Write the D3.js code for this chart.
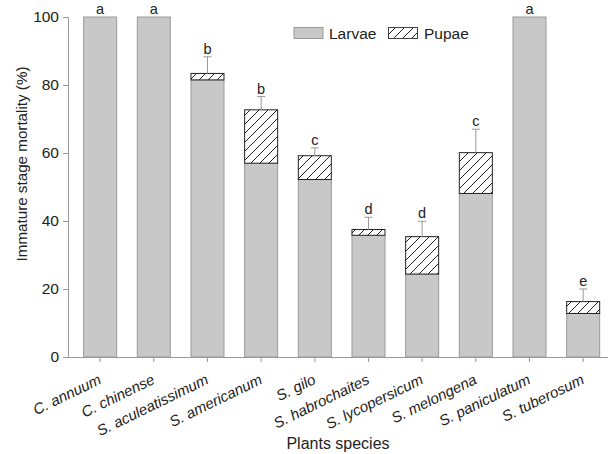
<!DOCTYPE html>
<html><head><meta charset="utf-8">
<script src="https://cdn.jsdelivr.net/npm/d3@7"></script>
<style>body{margin:0;background:#fff}svg{display:block;font-family:"Liberation Sans",Arial,sans-serif}</style>
</head><body><svg id="c" width="608" height="454"></svg>
<script>
const categories = ["C. annuum","C. chinense","S. aculeatissimum","S. americanum","S. gilo","S. habrochaites","S. lycopersicum","S. melongena","S. paniculatum","S. tuberosum"];
const larvae = [100,100,81.5,57.0,52.2,35.8,24.4,48.1,100,12.8];
const pupae  = [0,0,1.9,15.7,7.0,1.7,11.0,12.0,0,3.5];
const errTop = [null,null,88.3,76.6,61.5,41.1,39.9,67.0,null,20.0];
const letters = ["a","a","b","b","c","d","d","c","a","e"];
const yTicks = [0,20,40,60,80,100];

const svg = d3.select("#c");
const defs = svg.append("defs");
const pat = defs.append("pattern").attr("id","hatch").attr("patternUnits","userSpaceOnUse")
  .attr("width",9).attr("height",9);
pat.append("rect").attr("width",9).attr("height",9).attr("fill","#fff");
pat.append("path").attr("d","M-2,11 L11,-2 M-2,2 L2,-2 M7,11 L11,7").attr("stroke","#222").attr("stroke-width",1);

const x = d3.scaleBand().domain(categories).range([73.3,610]).paddingInner(0.385).paddingOuter(0.1925);
const y = d3.scaleLinear().domain([0,100]).range([357,17]);

// axes
const yAx = svg.append("g").attr("transform","translate(68,0)")
  .call(d3.axisLeft(y).tickValues(yTicks).tickSize(5).tickPadding(4));
yAx.select(".domain").attr("stroke","#999");
yAx.selectAll(".tick line").attr("stroke","#999");
yAx.selectAll("text").attr("font-size",15.5).attr("fill","#222").attr("font-family","Liberation Sans, Arial, sans-serif");

const data = categories.map((c,i)=>({c,l:larvae[i],p:pupae[i],e:errTop[i],t:letters[i]}));

// bars
svg.append("g").selectAll("rect").data(data).join("rect")
  .attr("x",d=>x(d.c)).attr("width",x.bandwidth())
  .attr("y",d=>y(d.l)).attr("height",d=>y(0)-y(d.l))
  .attr("fill","#c8c8c8").attr("stroke","#999").attr("stroke-width",1);
svg.append("g").selectAll("rect").data(data.filter(d=>d.p>0)).join("rect")
  .attr("x",d=>x(d.c)).attr("width",x.bandwidth())
  .attr("y",d=>y(d.l+d.p)).attr("height",d=>y(d.l)-y(d.l+d.p))
  .attr("fill","url(#hatch)").attr("stroke","#222").attr("stroke-width",1);

// error bars
const eg = svg.append("g").attr("stroke","#999").attr("stroke-width",1);
data.filter(d=>d.e!=null).forEach(d=>{
  const cx = x(d.c)+x.bandwidth()/2;
  eg.append("line").attr("x1",cx).attr("x2",cx).attr("y1",y(d.l+d.p)).attr("y2",y(d.e));
  eg.append("line").attr("x1",cx-4).attr("x2",cx+4).attr("y1",y(d.e)).attr("y2",y(d.e));
});

// letters
svg.append("g").selectAll("text").data(data).join("text")
  .attr("x",d=>x(d.c)+x.bandwidth()/2)
  .attr("y",d=>y(d.e!=null?d.e:d.l+d.p)-3)
  .attr("text-anchor","middle").attr("font-size",14.5).attr("fill","#222").text(d=>d.t);

// x axis
const xAx = svg.append("g").attr("transform","translate(0,357)")
  .call(d3.axisBottom(x).tickSize(5).tickSizeOuter(0).tickPadding(6));
xAx.select(".domain").attr("d","M68,0.5H608").attr("stroke","#999");
xAx.selectAll(".tick line").attr("stroke","#999");
xAx.selectAll("text").attr("font-size",15).attr("fill","#222").attr("font-style","italic")
  .attr("font-family","Liberation Sans, Arial, sans-serif")
  .attr("text-anchor","end").attr("x",0).attr("y",0).attr("dy",0)
  .attr("transform","translate(2,26) rotate(-26)");

// axis titles
svg.append("text").attr("transform","translate(27,164) rotate(-90)").attr("text-anchor","middle")
  .attr("font-size",15.2).attr("fill","#222").text("Immature stage mortality (%)");
svg.append("text").attr("x",338).attr("y",449).attr("text-anchor","middle")
  .attr("font-size",16).attr("fill","#222").text("Plants species");

// legend
const leg = svg.append("g");
leg.append("rect").attr("x",294).attr("y",27.5).attr("width",29).attr("height",11).attr("fill","#c8c8c8").attr("stroke","#999");
leg.append("text").attr("x",329).attr("y",38.5).attr("font-size",15.5).attr("fill","#222").text("Larvae");
leg.append("rect").attr("x",388.5).attr("y",27.5).attr("width",29).attr("height",11).attr("fill","url(#hatch)").attr("stroke","#444");
leg.append("text").attr("x",424).attr("y",38.5).attr("font-size",15.5).attr("fill","#222").text("Pupae");
</script></body></html>
